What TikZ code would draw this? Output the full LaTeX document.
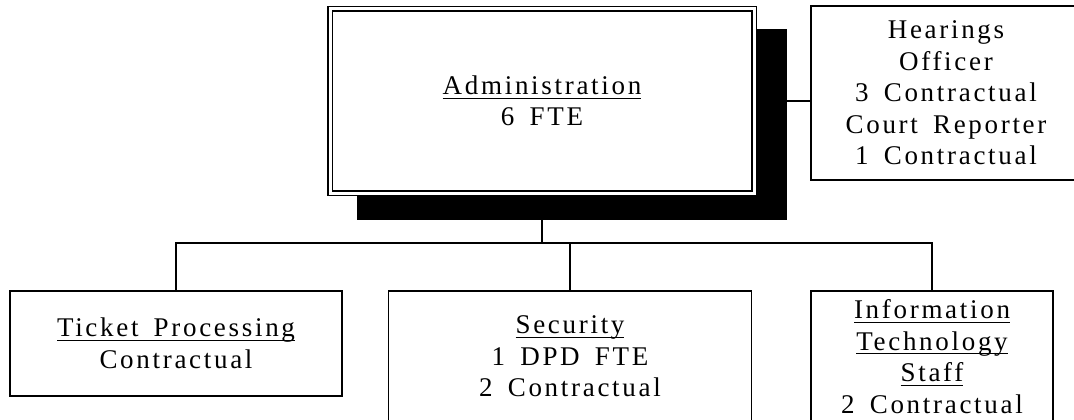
\documentclass[tikz,border=0pt]{standalone}
\usepackage{fontspec}
\setmainfont[LetterSpace=10,WordSpace=1.6]{Liberation Serif}
\usetikzlibrary{backgrounds}

% underlined title line
\newsavebox{\ulbox}
\newcommand{\ulined}[1]{\sbox\ulbox{#1}\rlap{\rule[-4pt]{\wd\ulbox}{0.9pt}}\usebox\ulbox}

\tikzset{
    unit/.style={draw, line width=1.6pt, fill=white, align=center, inner sep=0pt,
        font=\fontsize{27}{31.5}\selectfont},
    link/.style={line width=1.6pt},
}

\begin{document}
\begin{tikzpicture}[x=1pt,y=-1pt]
    \useasboundingbox (0,0) rectangle (1074,420);
    \clip (0,0) rectangle (1074,420);
    %top level
    \node[unit, double, double distance=3pt, line width=1.5pt, outer sep=3pt, minimum width=424pt, minimum height=184pt]
        (admin) at (542,101) {\ulined{Administration}\\6 FTE};
    \node[unit, minimum width=270pt, minimum height=174pt]
        (hear) at (946,93) {Hearings\\Officer\\3 Contractual\\Court Reporter\\1 Contractual};
    %second level
    \node[unit, minimum width=332pt, minimum height=105pt]
        (ticket) at (176,343.5) {\ulined{Ticket Processing}\\Contractual};
    \node[unit, minimum width=363pt, minimum height=131pt]
        (sec) at (570,356.5) {\ulined{Security}\\1 DPD FTE\\2 Contractual};
    \node[unit, minimum width=242pt, minimum height=131pt]
        (it) at (932,356.5) {\ulined{Information}\\\ulined{Technology}\\\ulined{Staff}\\2 Contractual};
    %shadow under the top box
    \begin{scope}[on background layer]
        \fill[black] ([shift={(30,23)}]admin.north west) rectangle ([shift={(30,24)}]admin.south east);
    \end{scope}
    %draw lines
    \coordinate (bus) at (0,243);
    \draw[link] (admin.east) -- (hear.west |- admin.east);
    \draw[link] (admin.south) -- (admin.south |- bus);
    \draw[link] (ticket.north) |- (it.north |- bus) -- (it.north);
    \draw[link] (sec.north) -- (sec.north |- bus);
\end{tikzpicture}
\end{document}
